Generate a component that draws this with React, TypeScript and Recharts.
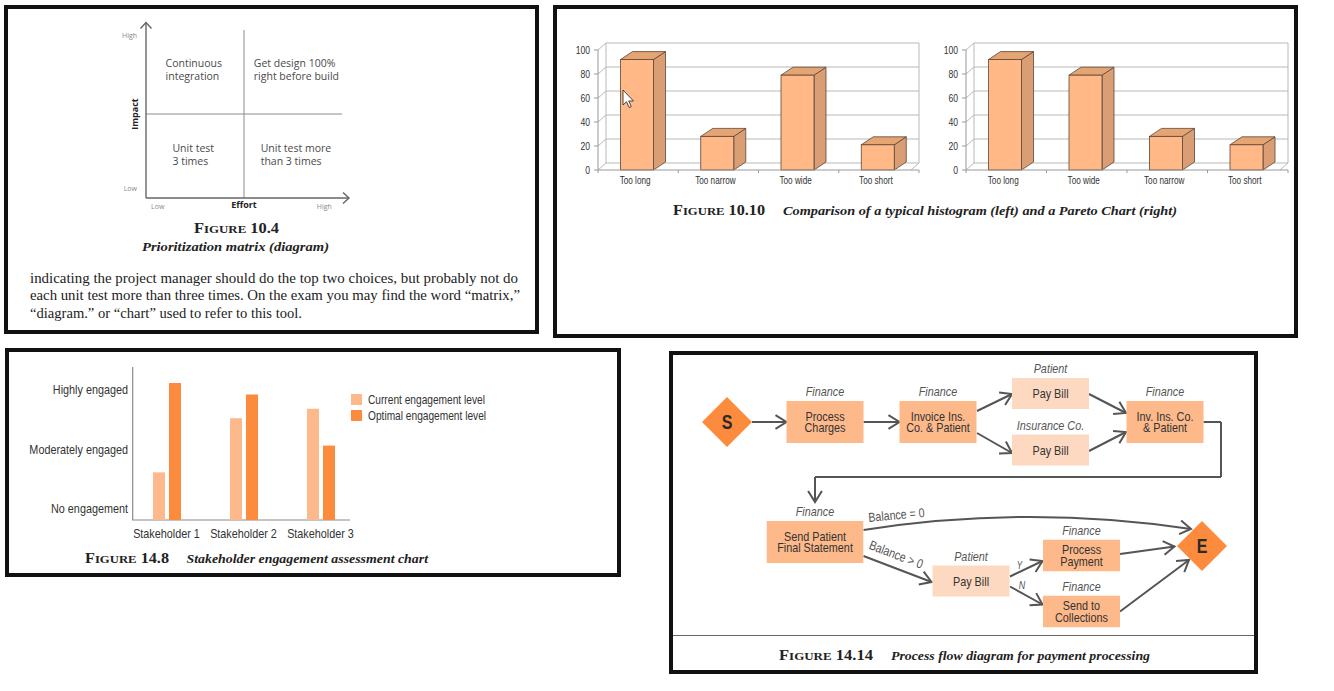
import React from "react";
import {
  ScatterChart,
  Scatter,
  XAxis,
  YAxis,
  ReferenceLine,
  ReferenceArea,
  BarChart,
  Bar,
  CartesianGrid,
  Legend,
  Label,
} from "recharts";

const SANS = "'Liberation Sans', Arimo, Arial, sans-serif";
const NARROW_SCALE = 0.82;
const SERIF = "'Liberation Serif', 'DejaVu Serif', serif";
const HUMANIST = "'Open Sans', 'Noto Sans', sans-serif";

/* ---------------- Figure 10.4 : prioritization matrix ---------------- */
const EFFORT_TICKS = [0.12, 1.82];
const IMPACT_TICKS = [0.11, 1.93];
const LOW_HIGH = ["Low", "High"];
const MATRIX_MID = 1;
const QUADRANT_EFFORT = [0.2, 1.1, 0.27, 1.17];
const QUADRANT_IMPACT = [1.6, 1.6, 0.59, 0.59];
const QUADRANT_TEXT = [
  ["Continuous", "integration"],
  ["Get design 100%", "right before build"],
  ["Unit test", "3 times"],
  ["Unit test more", "than 3 times"],
];
const PARAGRAPH = [
  "indicating the project manager should do the top two choices, but probably not do",
  "each unit test more than three times. On the exam you may find the word \u201cmatrix,\u201d",
  "\u201cdiagram.\u201d or \u201cchart\u201d used to refer to this tool.",
];

/* ---------------- Figure 10.10 : histogram vs Pareto ---------------- */
const HIST_CATEGORIES = ["Too long", "Too narrow", "Too wide", "Too short"];
const HIST_VALUES = [92, 28, 79, 21];
const PARETO_CATEGORIES = ["Too long", "Too wide", "Too narrow", "Too short"];
const PARETO_VALUES = [92, 79, 28, 21];
const COUNT_TICKS = [0, 20, 40, 60, 80, 100];

/* ---------------- Figure 14.8 : stakeholder engagement ---------------- */
const STAKEHOLDERS = ["Stakeholder 1", "Stakeholder 2", "Stakeholder 3"];
const CURRENT_LEVEL = [0.61, 1.52, 1.68];
const OPTIMAL_LEVEL = [2.11, 1.92, 1.06];
const LEVEL_TICKS = [0, 1, 2];
const LEVEL_LABELS = ["No engagement", "Moderately engaged", "Highly engaged"];
const LEVEL_MIN = -0.19;
const LEVEL_MAX = 2.38;

/* ---------------- Figure 14.14 : process flow ---------------- */
const NODES = [
  { x: 58, y: 71, kind: "start", role: "", lines: ["S"] },
  { x: 156, y: 71, kind: "task", role: "Finance", lines: ["Process", "Charges"] },
  { x: 269, y: 71, kind: "task", role: "Finance", lines: ["Invoice Ins.", "Co. & Patient"] },
  { x: 381.5, y: 42.5, kind: "pay", role: "Patient", lines: ["Pay Bill"] },
  { x: 381.5, y: 99, kind: "pay", role: "Insurance Co.", lines: ["Pay Bill"] },
  { x: 496, y: 71, kind: "task", role: "Finance", lines: ["Inv. Ins. Co.", "& Patient"] },
  { x: 146, y: 191, kind: "wide", role: "Finance", lines: ["Send Patient", "Final Statement"] },
  { x: 302, y: 230, kind: "pay", role: "Patient", lines: ["Pay Bill"] },
  { x: 412.5, y: 204.5, kind: "taskSm", role: "Finance", lines: ["Process", "Payment"] },
  { x: 412.5, y: 260.5, kind: "taskSm", role: "Finance", lines: ["Send to", "Collections"] },
  { x: 533, y: 195, kind: "end", role: "", lines: ["E"] },
];
const EDGES = [
  { pts: [[83, 71], [117.5, 71]] },
  { pts: [[194.5, 71], [230.5, 71]] },
  { pts: [[308, 60], [343, 43]] },
  { pts: [[308, 82], [343, 102]] },
  { pts: [[420, 43], [457, 62]] },
  { pts: [[420, 100], [457, 81]] },
  { pts: [[534.5, 71], [552, 71], [552, 126], [146, 126], [146, 151]] },
  { pts: [[194.5, 179], [522, 178]], bend: 25 },
  { pts: [[194.5, 205], [262.5, 231]] },
  { pts: [[341, 225.5], [373.5, 210]] },
  { pts: [[341, 235.5], [373.5, 253.5]] },
  { pts: [[451, 203], [505.5, 195.5]] },
  { pts: [[451, 260.5], [520, 209]] },
];
const EDGE_LABELS = [
  { x: 227.5, y: 164.5, text: "Balance = 0", angle: -5, italic: false, size: 13 },
  { x: 227, y: 204, text: "Balance > 0", angle: 21, italic: false, size: 13 },
  { x: 350.5, y: 213.5, text: "Y", angle: 0, italic: true, size: 10 },
  { x: 353, y: 234, text: "N", angle: 0, italic: true, size: 11 },
];

/* ---------------- shared pieces ---------------- */
function NText({ x, y, anchor = "start", size, weight = 400, italic = false, fill = "#333", rotate = 0, children }: any) {
  return (
    <text
      transform={`translate(${x},${y}) rotate(${rotate}) scale(${NARROW_SCALE},1)`}
      x={0}
      y={0}
      textAnchor={anchor}
      fontFamily={SANS}
      fontSize={size}
      fontWeight={weight}
      fontStyle={italic ? "italic" : "normal"}
      fill={fill}
    >
      {children}
    </text>
  );
}

function Frame({ left, top, width, height }: any) {
  return (
    <div
      style={{
        position: "absolute",
        left,
        top,
        width,
        height,
        border: "4px solid #111",
        boxSizing: "border-box",
      }}
    />
  );
}

function Caption({ x, y, num, numWidth, descX, descWidth, desc }: any) {
  return (
    <g>
      <text x={x} y={y} fontFamily={SERIF} fontWeight={700} fill="#222" textLength={numWidth} lengthAdjust="spacingAndGlyphs">
        <tspan fontSize={14}>F</tspan>
        <tspan fontSize={11}>IGURE</tspan>
        <tspan fontSize={14}>{" " + num}</tspan>
      </text>
      <text
        x={descX}
        y={y}
        fontFamily={SERIF}
        fontWeight={700}
        fontStyle="italic"
        fontSize={13}
        fill="#222"
        textLength={descWidth}
        lengthAdjust="spacingAndGlyphs"
      >
        {desc}
      </text>
    </g>
  );
}

/* ---------------- Figure 10.4 chart ---------------- */
const MatrixXTick = (p: any) => {
  const i = EFFORT_TICKS.indexOf(p.payload.value);
  return (
    <text x={p.x} y={p.y + 11} textAnchor="middle" fontFamily={HUMANIST} fontSize={7} fill="#888">
      {LOW_HIGH[i]}
    </text>
  );
};
const MatrixYTick = (p: any) => {
  const i = IMPACT_TICKS.indexOf(p.payload.value);
  return (
    <text x={p.x - 9} y={p.y + 2.5} textAnchor="end" fontFamily={HUMANIST} fontSize={7} fill="#888">
      {LOW_HIGH[i]}
    </text>
  );
};
const EffortLabel = (p: any) => {
  const vb = p.viewBox || { x: 46, y: 188, width: 196, height: 22 };
  return (
    <text x={vb.x + vb.width / 2} y={vb.y + 9.5} textAnchor="middle" fontFamily={HUMANIST} fontWeight={700} fontSize={9} fill="#222">
      Effort
    </text>
  );
};
const ImpactLabel = (p: any) => {
  const vb = p.viewBox || { x: 16, y: 20, width: 30, height: 168 };
  const x = vb.x + vb.width - 8;
  const y = vb.y + vb.height / 2;
  return (
    <text x={x} y={y} transform={`rotate(-90, ${x}, ${y})`} textAnchor="middle" fontFamily={HUMANIST} fontWeight={700} fontSize={9} fill="#222">
      Impact
    </text>
  );
};
const ArrowAxisY = (p: any) => {
  const x = p.x1;
  const top = Math.min(p.y1, p.y2);
  const bottom = Math.max(p.y1, p.y2);
  const tip = top - 7.5;
  return (
    <g stroke="#666" strokeWidth={1.4} fill="none">
      <line x1={x} y1={bottom} x2={x} y2={tip} />
      <path d={`M${x - 5.5},${tip + 6} L${x},${tip} L${x + 5.5},${tip + 6}`} />
    </g>
  );
};
const ArrowAxisX = (p: any) => {
  const y = p.y1;
  const left = Math.min(p.x1, p.x2);
  const right = Math.max(p.x1, p.x2);
  const tip = right + 7;
  return (
    <g stroke="#666" strokeWidth={1.4} fill="none">
      <line x1={left} y1={y} x2={tip} y2={y} />
      <path d={`M${tip - 6},${y - 5.5} L${tip},${y} L${tip - 6},${y + 5.5}`} />
    </g>
  );
};
const QuadrantText = (p: any) => (
  <text x={p.cx} y={p.cy + 3.8} fontFamily={HUMANIST} fontSize={10.5} fill="#4a4a4a">
    {p.payload.lines.map((l: string, i: number) => (
      <tspan key={i} x={p.cx} dy={i === 0 ? 0 : 13}>
        {l}
      </tspan>
    ))}
  </text>
);

function MatrixChart() {
  const rows = QUADRANT_TEXT.map((lines, i) => ({ x: QUADRANT_EFFORT[i], y: QUADRANT_IMPACT[i], lines }));
  return (
    <ScatterChart width={257} height={210} margin={{ top: 20, right: 15, bottom: 0, left: 16 }}>
      <XAxis
        type="number"
        dataKey="x"
        domain={[0, 2]}
        ticks={EFFORT_TICKS}
        height={22}
        axisLine={false}
        tickLine={false}
        tickSize={0}
        tickMargin={0}
        tick={MatrixXTick}
        label={<Label content={EffortLabel} />}
      />
      <YAxis
        type="number"
        dataKey="y"
        domain={[0, 2]}
        ticks={IMPACT_TICKS}
        width={30}
        axisLine={false}
        tickLine={false}
        tickSize={0}
        tickMargin={0}
        tick={MatrixYTick}
        label={<Label content={ImpactLabel} />}
      />
      <ReferenceLine x={MATRIX_MID} stroke="#8c8c8c" strokeWidth={1} />
      <ReferenceLine y={MATRIX_MID} stroke="#8c8c8c" strokeWidth={1} />
      <ReferenceLine x={0} shape={ArrowAxisY} ifOverflow="visible" />
      <ReferenceLine y={0} shape={ArrowAxisX} ifOverflow="visible" />
      <Scatter data={rows} shape={QuadrantText} isAnimationActive={false} />
    </ScatterChart>
  );
}

/* ---------------- Figure 10.10 charts ---------------- */
const WALL_DX = 8;
const WALL_DY = 7;
const BAR_DX = 12;
const BAR_DY = 8;
const GRID = "#b8b8b8";

const gridLine3D = (p: any) => (
  <g>
    <line x1={p.x1} y1={p.y1} x2={p.x1 + WALL_DX} y2={p.y1 - WALL_DY} stroke={GRID} strokeWidth={1} />
    <line x1={p.x1 + WALL_DX} y1={p.y1 - WALL_DY} x2={p.x2} y2={p.y2 - WALL_DY} stroke={GRID} strokeWidth={1} />
  </g>
);
const Wall3D = (p: any) => {
  const { x, y, width, height } = p;
  const bx = x + WALL_DX;
  const by = y - WALL_DY;
  const r = x + width;
  return (
    <path
      d={`M${bx},${by + height} L${bx},${by} M${r},${by} L${r},${by + height} M${r - WALL_DX},${y + height} L${r},${by + height}`}
      stroke={GRID}
      strokeWidth={1}
      fill="none"
    />
  );
};
const Bar3D = (p: any) => {
  const { x, y, width, height } = p;
  if (height == null || isNaN(height)) return null;
  const fx = x - 1.5;
  const w = width;
  const edge = "#5e4535";
  return (
    <g>
      <path
        d={`M${fx + w},${y} L${fx + w + BAR_DX},${y - BAR_DY} L${fx + w + BAR_DX},${y + height - BAR_DY} L${fx + w},${y + height} Z`}
        fill="#D99E74"
        stroke={edge}
        strokeWidth={0.8}
      />
      <path
        d={`M${fx},${y} L${fx + BAR_DX},${y - BAR_DY} L${fx + w + BAR_DX},${y - BAR_DY} L${fx + w},${y} Z`}
        fill="#E4A474"
        stroke={edge}
        strokeWidth={0.8}
      />
      <rect x={fx} y={y} width={w} height={height} fill="#FFB886" stroke={edge} strokeWidth={0.8} />
    </g>
  );
};
const CountTick = (p: any) => (
  <NText x={p.x} y={p.y + 3.6} anchor="end" size={10.5} fill="#333">
    {p.payload.value}
  </NText>
);
const makeCatTick = (count: number) => (p: any) => {
  const off = p.payload && typeof p.payload.offset === "number" && p.payload.offset > 0 ? p.payload.offset : 40;
  return (
    <g>
      <line x1={p.x - off} y1={p.y} x2={p.x - off} y2={p.y + 3} stroke="#999" />
      {p.index === count - 1 ? <line x1={p.x + off} y1={p.y} x2={p.x + off} y2={p.y + 3} stroke="#999" /> : null}
      <NText x={p.x - 3} y={p.y + 14} anchor="middle" size={10} fill="#333">
        {p.payload.value}
      </NText>
    </g>
  );
};

function Bar3DChart({ categories, values, width, marginLeft }: any) {
  const rows = categories.map((name: string, i: number) => ({ name, value: values[i] }));
  return (
    <BarChart width={width} height={185} data={rows} margin={{ top: 45, right: 10, left: marginLeft, bottom: 0 }} barSize={33}>
      <CartesianGrid vertical={false} horizontal={gridLine3D} />
      <ReferenceArea y1={0} y2={100} shape={Wall3D} />
      <XAxis
        dataKey="name"
        height={20}
        axisLine={{ stroke: "#999" }}
        tickLine={false}
        tickSize={0}
        tickMargin={0}
        tick={makeCatTick(categories.length)}
        interval={0}
      />
      <YAxis
        type="number"
        domain={[0, 100]}
        ticks={COUNT_TICKS}
        width={40}
        axisLine={{ stroke: "#999" }}
        tickLine={{ stroke: "#999" }}
        tickSize={4}
        tickMargin={4}
        tick={CountTick}
      />
      <Bar dataKey="value" shape={Bar3D} isAnimationActive={false} />
    </BarChart>
  );
}

/* ---------------- Figure 14.8 chart ---------------- */
const CURRENT_COLOR = "#FDB98B";
const OPTIMAL_COLOR = "#FD8B3D";

const LevelTick = (p: any) => {
  const i = LEVEL_TICKS.indexOf(p.payload.value);
  return (
    <NText x={p.x} y={p.y + 4.5} anchor="end" size={13.2} fill="#333">
      {LEVEL_LABELS[i]}
    </NText>
  );
};
const StakeTick = (p: any) => (
  <NText x={p.x} y={p.y + 17.5} anchor="middle" size={13.2} fill="#333">
    {p.payload.value}
  </NText>
);
const EngagementAxes = (p: any) => {
  const { x, y, width, height } = p;
  const ax = x + 4.7;
  return <path d={`M${ax},${y} L${ax},${y + height} L${x + width - 9},${y + height}`} stroke="#8a8a8a" strokeWidth={1.2} fill="none" />;
};
const EngagementLegend = (p: any) => (
  <div style={{ fontFamily: SANS, fontSize: 12.4, color: "#333", whiteSpace: "nowrap" }}>
    {(p.payload || []).map((e: any, i: number) => (
      <div key={i} style={{ display: "flex", alignItems: "center", height: 16 }}>
        <span style={{ display: "inline-block", width: 11, height: 10.5, background: e.color, marginRight: 6, flex: "none" }} />
        <span style={{ display: "inline-block", transform: `scaleX(${NARROW_SCALE})`, transformOrigin: "left center" }}>{e.value}</span>
      </div>
    ))}
  </div>
);

function EngagementChart() {
  const rows = STAKEHOLDERS.map((name, i) => ({
    name,
    current: [LEVEL_MIN, CURRENT_LEVEL[i]],
    optimal: [LEVEL_MIN, OPTIMAL_LEVEL[i]],
  }));
  return (
    <BarChart width={500} height={195} data={rows} margin={{ top: 12, right: 151, left: 0, bottom: 0 }} barSize={12} barGap={4}>
      <XAxis dataKey="name" height={30} axisLine={false} tickLine={false} tickSize={0} tickMargin={0} tick={StakeTick} interval={0} />
      <YAxis
        type="number"
        domain={[LEVEL_MIN, LEVEL_MAX]}
        ticks={LEVEL_TICKS}
        width={118}
        axisLine={false}
        tickLine={false}
        tickSize={0}
        tickMargin={0}
        tick={LevelTick}
      />
      <ReferenceArea y1={LEVEL_MIN} y2={LEVEL_MAX} shape={EngagementAxes} />
      <Bar dataKey="current" name="Current engagement level" fill={CURRENT_COLOR} isAnimationActive={false} />
      <Bar dataKey="optimal" name="Optimal engagement level" fill={OPTIMAL_COLOR} isAnimationActive={false} />
      <Legend
        layout="vertical"
        align="center"
        verticalAlign="middle"
        content={EngagementLegend}
        wrapperStyle={{ left: 340.7, top: 36.5, width: 160, height: 34 }}
      />
    </BarChart>
  );
}

/* ---------------- Figure 14.14 chart ---------------- */
const NODE_SIZE: any = {
  task: [77, 42],
  taskSm: [77, 31.5],
  wide: [96.5, 42],
  pay: [77, 31],
};
const NODE_FILL: any = {
  task: "#FDB98A",
  taskSm: "#FDB98A",
  wide: "#FDB98A",
  pay: "#FDD9C2",
};
const DIAMOND_R = 25;
const ARROW_LEN = 13;
const ARROW_ANG = 0.56;
const FLOW_STROKE = "#555";

const NodeShape = (p: any) => {
  const n = p.payload;
  const cx = p.cx;
  const cy = p.cy;
  if (n.kind === "start" || n.kind === "end") {
    const r = DIAMOND_R;
    return (
      <g>
        <path d={`M${cx - r},${cy} L${cx},${cy - r} L${cx + r},${cy} L${cx},${cy + r} Z`} fill="#FD8B3D" />
        <NText x={cx} y={cy + 6.8} anchor="middle" size={19.5} weight={700} fill="#2a2a2a">
          {n.lines[0]}
        </NText>
      </g>
    );
  }
  const [w, h] = NODE_SIZE[n.kind];
  const top = cy - h / 2;
  const lh = 11.5;
  const first = cy - ((n.lines.length - 1) * lh) / 2 + 4.6;
  return (
    <g>
      <rect x={cx - w / 2} y={top} width={w} height={h} fill={NODE_FILL[n.kind]} />
      <NText x={cx} y={top - 5} anchor="middle" size={13.2} italic fill="#555">
        {n.role}
      </NText>
      {n.lines.map((l: string, i: number) => (
        <NText key={i} x={cx} y={first + i * lh} anchor="middle" size={13.2} fill="#333">
          {l}
        </NText>
      ))}
    </g>
  );
};
const chevron = (tx: number, ty: number, fx: number, fy: number) => {
  const a = Math.atan2(ty - fy, tx - fx);
  const x1 = tx - ARROW_LEN * Math.cos(a - ARROW_ANG);
  const y1 = ty - ARROW_LEN * Math.sin(a - ARROW_ANG);
  const x2 = tx - ARROW_LEN * Math.cos(a + ARROW_ANG);
  const y2 = ty - ARROW_LEN * Math.sin(a + ARROW_ANG);
  return `M${x1},${y1} L${tx},${ty} L${x2},${y2}`;
};
const makeEdgeShape = (arrow: boolean, bend: number) => (p: any) => {
  const { x1, y1, x2, y2 } = p;
  let d: string;
  let fx = x1;
  let fy = y1;
  if (bend) {
    const dx = x2 - x1;
    const dy = y2 - y1;
    const L = Math.hypot(dx, dy) || 1;
    const cx = (x1 + x2) / 2 + (dy / L) * bend;
    const cy = (y1 + y2) / 2 - (dx / L) * bend;
    d = `M${x1},${y1} Q${cx},${cy} ${x2},${y2}`;
    fx = cx;
    fy = cy;
  } else {
    d = `M${x1},${y1} L${x2},${y2}`;
  }
  return (
    <g fill="none" stroke={FLOW_STROKE} strokeWidth={2} strokeLinejoin="miter">
      <path d={d} />
      {arrow ? <path d={chevron(x2, y2, fx, fy)} /> : null}
    </g>
  );
};
const EdgeLabelShape = (p: any) => {
  const e = p.payload;
  return (
    <g transform={`rotate(${e.angle}, ${p.cx}, ${p.cy})`}>
      <NText x={p.cx} y={p.cy + 4} anchor="middle" size={e.size} italic={e.italic} fill="#555">
        {e.text}
      </NText>
    </g>
  );
};

function FlowChart() {
  const segments: any[] = [];
  EDGES.forEach((e, ei) => {
    for (let i = 0; i < e.pts.length - 1; i++) {
      segments.push({
        key: `${ei}-${i}`,
        a: e.pts[i],
        b: e.pts[i + 1],
        arrow: i === e.pts.length - 2,
        bend: e.bend || 0,
      });
    }
  });
  return (
    <ScatterChart width={589} height={323} margin={{ top: 0, right: 0, bottom: 0, left: 0 }}>
      <XAxis type="number" dataKey="x" domain={[0, 589]} hide />
      <YAxis type="number" dataKey="y" domain={[0, 323]} reversed hide />
      {segments.map((s) => (
        <ReferenceLine
          key={s.key}
          segment={[
            { x: s.a[0], y: s.a[1] },
            { x: s.b[0], y: s.b[1] },
          ]}
          ifOverflow="visible"
          shape={makeEdgeShape(s.arrow, s.bend)}
        />
      ))}
      <Scatter data={NODES} shape={NodeShape} isAnimationActive={false} />
      <Scatter data={EDGE_LABELS} shape={EdgeLabelShape} isAnimationActive={false} />
    </ScatterChart>
  );
}

/* ---------------- page ---------------- */
export default function App() {
  return (
    <div style={{ position: "absolute", left: 0, top: 0, width: 1334, height: 691, background: "#fff", overflow: "hidden" }}>
      <div style={{ position: "absolute", left: 100, top: 10 }}>
        <MatrixChart />
      </div>
      <div style={{ position: "absolute", left: 553, top: 5 }}>
        <Bar3DChart categories={HIST_CATEGORIES} values={HIST_VALUES} width={376} marginLeft={5} />
      </div>
      <div style={{ position: "absolute", left: 923, top: 5 }}>
        <Bar3DChart categories={PARETO_CATEGORIES} values={PARETO_VALUES} width={375} marginLeft={3} />
      </div>
      <div style={{ position: "absolute", left: 10, top: 355 }}>
        <EngagementChart />
      </div>
      <div style={{ position: "absolute", left: 669, top: 351 }}>
        <FlowChart />
      </div>
      <div style={{ position: "absolute", left: 673, top: 635, width: 581, height: 0, borderTop: "1.6px solid #666" }} />

      <svg width={1334} height={691} style={{ position: "absolute", left: 0, top: 0, pointerEvents: "none" }}>
        <text x={194} y={232.5} fontFamily={SERIF} fontWeight={700} fill="#222" textLength={85} lengthAdjust="spacingAndGlyphs">
          <tspan fontSize={14}>F</tspan>
          <tspan fontSize={11}>IGURE</tspan>
          <tspan fontSize={14}> 10.4</tspan>
        </text>
        <text x={142} y={251} fontFamily={SERIF} fontWeight={700} fontStyle="italic" fontSize={13} fill="#222" textLength={187} lengthAdjust="spacingAndGlyphs">
          Prioritization matrix (diagram)
        </text>
        {PARAGRAPH.map((line, i) => (
          <text
            key={i}
            x={30}
            y={[282.5, 300, 317.5][i]}
            fontFamily={SERIF}
            fontSize={15.5}
            fill="#222"
            textLength={[488, 490, 272][i]}
            lengthAdjust="spacingAndGlyphs"
          >
            {line}
          </text>
        ))}
        <Caption
          x={673}
          y={214.5}
          num="10.10"
          numWidth={92}
          descX={783}
          descWidth={394}
          desc="Comparison of a typical histogram (left) and a Pareto Chart (right)"
        />
        <Caption x={85} y={562.5} num="14.8" numWidth={84} descX={186.5} descWidth={241.5} desc="Stakeholder engagement assessment chart" />
        <Caption x={779} y={660} num="14.14" numWidth={94} descX={891} descWidth={259} desc="Process flow diagram for payment processing" />
        <path d="M623,90 L623,105 L626.5,101.8 L629.2,107.5 L631.3,106.6 L628.7,101 L633.5,101 Z" fill="#fff" stroke="#333" strokeWidth={0.9} />
      </svg>

      <Frame left={4} top={5} width={535} height={329} />
      <Frame left={553} top={5} width={745} height={333} />
      <Frame left={5} top={348} width={616} height={229} />
      <Frame left={669} top={351} width={589} height={323} />
    </div>
  );
}
